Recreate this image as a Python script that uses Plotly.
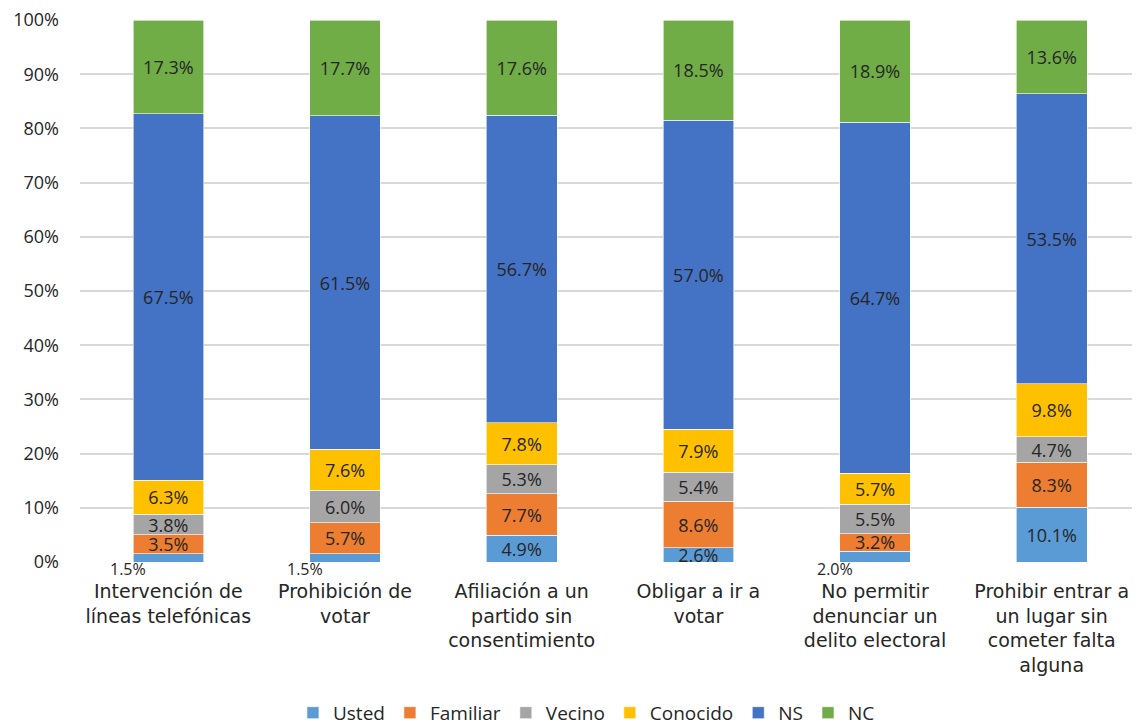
import plotly.graph_objects as go

categories = [
    "Intervención de<br>líneas telefónicas",
    "Prohibición de<br>votar",
    "Afiliación a un<br>partido sin<br>consentimiento",
    "Obligar a ir a<br>votar",
    "No permitir<br>denunciar un<br>delito electoral",
    "Prohibir entrar a<br>un lugar sin<br>cometer falta<br>alguna",
]
usted = [1.5, 1.5, 4.9, 2.6, 2.0, 10.1]
familiar = [3.5, 5.7, 7.7, 8.6, 3.2, 8.3]
vecino = [3.8, 6.0, 5.3, 5.4, 5.5, 4.7]
conocido = [6.3, 7.6, 7.8, 7.9, 5.7, 9.8]
ns = [67.5, 61.5, 56.7, 57.0, 64.7, 53.5]
nc = [17.3, 17.7, 17.6, 18.5, 18.9, 13.6]

series = [
    ("Usted", usted, "#5B9BD5"),
    ("Familiar", familiar, "#ED7D31"),
    ("Vecino", vecino, "#A5A5A5"),
    ("Conocido", conocido, "#FFC000"),
    ("NS", ns, "#4472C4"),
    ("NC", nc, "#70AD47"),
]

FONT = "Open Sans"
CATFONT = "DejaVu Sans"
TXT = "#262626"
small_threshold = 2.5

fig = go.Figure()
for name, vals, color in series:
    if name == "Usted":
        texts = [f"{v:.1f}%" if v > small_threshold else "" for v in vals]
    else:
        texts = [f"{v:.1f}%" for v in vals]
    fig.add_trace(go.Bar(
        name=name, x=categories, y=vals,
        marker=dict(color=color, line=dict(color="white", width=0.6)),
        text=texts, textposition="inside", insidetextanchor="middle",
        textfont=dict(family=FONT, size=18, color=TXT),
        cliponaxis=False,
    ))

# small outside labels for tiny Usted segments
for cat, v in zip(categories, usted):
    if v <= small_threshold:
        fig.add_annotation(
            x=cat, y=0, text=f"{v:.1f}%", showarrow=False,
            xanchor="right", yanchor="middle", xshift=-20, yshift=-7,
            font=dict(family=FONT, size=16, color=TXT),
        )

# page body has an 8px default margin: figure is sized to fit the window
fig.update_layout(
    barmode="stack", barnorm="percent", bargap=0.6,
    width=1132, height=717,
    margin=dict(l=72, r=0, t=12, b=163),
    paper_bgcolor="white", plot_bgcolor="white",
    font=dict(family=FONT, size=17, color=TXT),
    uniformtext=dict(minsize=18, mode="show"),
    legend=dict(orientation="h", xref="container", yref="container",
                x=0.511, xanchor="center", y=0.017, yanchor="middle",
                font=dict(family=FONT, size=19, color=TXT), traceorder="normal",
                itemwidth=30, tracegroupgap=0),
    showlegend=True,
)
fig.update_yaxes(range=[0, 100], tickvals=[0, 10, 20, 30, 40, 50, 60, 70, 80, 90, 100],
                 ticktext=[f"{t}%" for t in range(0, 101, 10)], automargin=False,
                 ticklabeloverflow="allow",
                 showgrid=True, gridcolor="#D9D9D9", gridwidth=1.5, zeroline=False,
                 ticklabelstandoff=20, tickfont=dict(family=FONT, size=18, color=TXT))
fig.update_xaxes(showline=False, automargin=False, tickfont=dict(family=CATFONT, size=19, color=TXT),
                 ticklabelstandoff=16)

fig.write_html("out.html")
